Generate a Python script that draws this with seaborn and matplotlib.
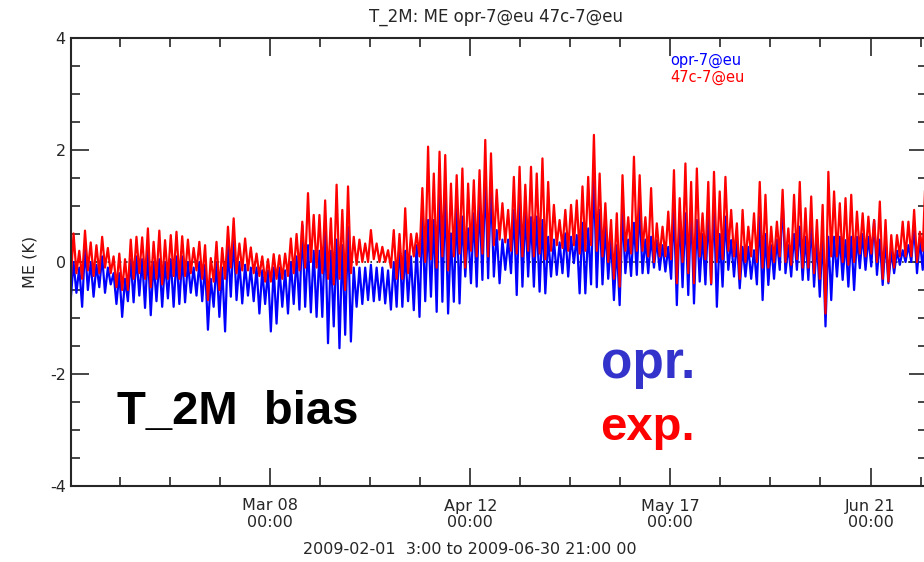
import numpy as np
import pandas as pd
import matplotlib
matplotlib.use('Agg')
import matplotlib.pyplot as plt
import matplotlib.dates as mdates
from matplotlib.ticker import MultipleLocator, FixedLocator
import seaborn as sns

# daily 3-hourly extremes of T_2M mean error (K), 2009-02-01 .. 2009-06-30
exp_hi = [0.51, 0.20, 0.56, 0.35, 0.30, 0.45, 0.25, 0.10, 0.15, 0.05, 0.40, 0.45, 0.44, 0.60, 0.36,
          0.56, 0.39, 0.48, 0.54, 0.46, 0.40, 0.25, 0.36, 0.30, 0.07, 0.36, 0.25, 0.63, 0.78, 0.33,
          0.42, 0.26, 0.15, 0.10, 0.05, 0.14, 0.12, 0.15, 0.42, 0.50, 0.72, 1.23, 0.84, 0.84, 1.10,
          0.78, 1.38, 0.93, 1.35, 0.45, 0.40, 0.33, 0.57, 0.33, 0.27, 0.21, 0.57, 0.50, 0.96, 0.50,
          0.51, 1.32, 2.06, 1.58, 1.97, 1.91, 1.40, 1.55, 1.67, 1.40, 1.46, 1.64, 2.18, 1.94, 1.29,
          1.05, 0.93, 1.52, 1.70, 1.38, 1.70, 1.58, 1.85, 1.43, 1.02, 0.75, 0.93, 1.02, 1.10, 1.35,
          1.52, 2.27, 1.58, 1.05, 0.75, 0.87, 1.55, 0.80, 1.88, 1.55, 0.80, 1.32, 0.69, 0.63, 0.90,
          1.64, 1.14, 1.76, 1.43, 1.67, 0.87, 1.43, 1.61, 1.26, 1.52, 0.93, 0.69, 0.93, 0.63, 0.87,
          1.43, 1.20, 0.63, 0.72, 1.29, 0.60, 1.20, 1.43, 0.96, 1.17, 0.75, 1.02, 1.61, 1.26, 1.05,
          1.14, 1.20, 0.90, 0.87, 0.81, 0.75, 1.08, 0.75, 0.48, 0.48, 0.72, 0.72, 0.93, 0.54, 1.55]
exp_lo = [-0.35, -0.20, -0.30, -0.15, -0.25, -0.20, -0.10, -0.20, -0.45, -0.50, -0.50, -0.30, -0.20, -0.30, -0.45,
          -0.30, -0.40, -0.30, -0.25, -0.30, -0.25, -0.20, -0.15, -0.30, -0.68, -0.35, -0.50, -0.30, -0.10, -0.20,
          -0.15, -0.15, -0.20, -0.25, -0.35, -0.35, -0.30, -0.30, -0.25, -0.20, -0.15, -0.10, 0.00, -0.10, -0.20,
          -0.30, -0.40, -0.30, -0.50, -0.20, -0.05, 0.00, 0.00, 0.05, 0.00, 0.00, -0.10, -0.30, -0.30, -0.20,
          0.10, 0.10, 0.00, 0.05, -0.10, 0.10, -0.15, 0.10, 0.15, -0.10, 0.20, 0.10, 0.15, 0.10, 0.30,
          0.40, 0.35, 0.20, 0.15, 0.10, 0.20, 0.10, 0.15, 0.05, 0.20, 0.30, 0.25, 0.20, 0.30, 0.15,
          0.20, 0.30, 0.20, 0.10, 0.00, -0.30, -0.44, 0.20, 0.15, 0.20, 0.20, 0.10, 0.00, 0.10, 0.10,
          0.05, -0.38, 0.00, -0.20, -0.38, 0.10, 0.05, -0.38, 0.00, 0.05, 0.20, 0.10, -0.30, 0.00, 0.10,
          0.00, -0.10, -0.10, 0.00, 0.10, 0.00, -0.05, 0.05, -0.10, -0.10, -0.20, -0.30, -0.92, 0.10, 0.10,
          0.00, -0.05, 0.00, 0.15, 0.10, 0.15, 0.00, -0.30, -0.35, -0.10, 0.10, 0.10, 0.10, 0.00, 0.20]
opr_hi = [0.00, -0.10, 0.27, 0.00, -0.05, 0.10, -0.10, -0.20, -0.20, -0.30, 0.05, 0.10, 0.05, 0.20, 0.00,
          0.05, 0.00, 0.05, 0.10, 0.10, 0.00, -0.10, 0.00, -0.05, -0.30, 0.00, -0.10, 0.30, 0.45, 0.00,
          -0.05, -0.10, -0.10, -0.15, -0.15, -0.10, -0.10, -0.15, 0.00, 0.10, 0.66, 0.30, 0.20, 0.20, 0.55,
          0.20, 0.40, 0.30, 0.63, -0.10, -0.10, -0.10, -0.05, -0.10, -0.10, -0.15, 0.00, 0.36, 0.20, 0.10,
          0.30, 0.81, 0.75, 0.75, 1.43, 1.23, 0.51, 0.99, 0.81, 0.60, 0.87, 1.10, 1.52, 1.35, 0.57,
          0.40, 0.40, 0.93, 1.17, 0.90, 0.80, 0.81, 0.75, 0.45, 0.40, 0.35, 0.51, 0.45, 0.48, 0.70,
          0.60, 1.58, 0.93, 0.63, 0.40, 0.30, 0.93, 0.40, 0.70, 0.99, 0.40, 0.45, 0.39, 0.30, 0.27,
          0.95, 0.87, 0.87, 0.99, 0.75, 0.50, 0.87, 1.02, 0.50, 0.81, 0.39, 0.39, 0.27, 0.27, 0.21,
          0.81, 0.50, 0.30, 0.40, 1.10, 0.30, 0.50, 0.63, 0.45, 0.69, 0.40, 0.50, 0.45, 0.45, 0.45,
          0.39, 0.45, 0.45, 0.50, 0.45, 0.75, 0.40, 0.39, 0.20, 0.20, 0.21, 0.30, 0.63, 0.40, 0.63]
opr_lo = [-0.68, -0.55, -0.80, -0.50, -0.62, -0.45, -0.55, -0.40, -0.75, -0.98, -0.70, -0.72, -0.60, -0.82, -0.95,
          -0.70, -0.80, -0.65, -0.80, -0.75, -0.72, -0.55, -0.60, -0.70, -1.21, -0.80, -0.98, -1.24, -0.62, -0.68,
          -0.74, -0.60, -0.70, -0.92, -0.75, -1.24, -1.10, -0.80, -0.92, -0.75, -0.85, -0.80, -0.90, -0.98, -0.98,
          -1.45, -1.15, -1.54, -1.30, -1.42, -0.80, -0.75, -0.68, -0.70, -0.68, -0.74, -0.85, -0.80, -0.80, -0.70,
          -0.86, -0.98, -0.70, -0.62, -0.89, -0.71, -0.92, -0.71, -0.74, -0.26, -0.38, -0.44, -0.32, -0.29, -0.26,
          -0.38, -0.14, -0.20, -0.59, -0.44, -0.26, -0.44, -0.53, -0.56, -0.26, -0.23, -0.20, -0.26, -0.02, -0.56,
          -0.56, -0.40, -0.45, -0.40, -0.30, -0.68, -0.77, -0.20, -0.25, -0.23, -0.20, -0.20, -0.10, -0.14, -0.17,
          -0.30, -0.77, -0.45, -0.59, -0.74, -0.35, -0.40, -0.40, -0.80, -0.44, -0.14, -0.26, -0.47, -0.26, -0.30,
          -0.40, -0.68, -0.41, -0.30, -0.14, -0.20, -0.26, -0.14, -0.32, -0.32, -0.44, -0.62, -1.15, -0.68, -0.26,
          -0.32, -0.44, -0.50, -0.11, -0.14, -0.08, -0.23, -0.41, -0.38, -0.20, -0.05, 0.00, 0.00, -0.20, -0.14]

runs = ['opr-7@eu', '47c-7@eu']   # experiment drawn last, on top
run_colors = {'47c-7@eu': '#ff0000', 'opr-7@eu': '#0000ff'}

# lows at 03 UTC, highs at 15 UTC
days = pd.date_range('2009-02-01 03:00', periods=len(exp_hi), freq='D')
t = np.column_stack([days.values, (days + pd.Timedelta(hours=12)).values]).ravel()
frames = []
for run, lo, hi in [('opr-7@eu', opr_lo, opr_hi), ('47c-7@eu', exp_lo, exp_hi)]:
    v = np.column_stack([lo, hi]).ravel()
    frames.append(pd.DataFrame({'time': t, 'me': v, 'run': run}))
df = pd.concat(frames, ignore_index=True)

sns.set_style('ticks')
plt.rcParams['font.family'] = ['DejaVu Sans']
plt.rcParams['axes.unicode_minus'] = False

fig = plt.figure(figsize=(9.24, 5.62), dpi=100)
ax = fig.add_axes([70.7 / 924, 1 - 486 / 562, (927 - 70.7) / 924, 448 / 562])

sns.lineplot(data=df, x='time', y='me', hue='run', hue_order=runs, palette=run_colors,
             estimator=None, sort=False, legend=False, lw=1.6, ax=ax)
ax.axhline(0, color='black', ls=(0, (1, 3)), lw=1.1, zorder=0.5)

ax.set_xlim(pd.Timestamp('2009-02-01 03:00'), pd.Timestamp('2009-06-30 21:00'))
ax.set_ylim(-4, 4)
ax.yaxis.set_major_locator(MultipleLocator(2))
ax.yaxis.set_minor_locator(MultipleLocator(0.5))
ticks = pd.date_range('2009-02-01', periods=19, freq='210h')
ax.xaxis.set_minor_locator(FixedLocator(mdates.date2num(ticks)))
ax.xaxis.set_major_locator(FixedLocator(mdates.date2num(ticks[4::4])))
ax.xaxis.set_major_formatter(mdates.DateFormatter('%b %d\n%H:%M'))
ax.tick_params(which='both', direction='in', top=True, right=True, width=1.2, labelsize=11.5)
ax.tick_params(which='major', length=13)
ax.tick_params(which='minor', length=6.5)
ax.tick_params(axis='x', pad=9)
for lab in ax.get_xticklabels():
    lab.set_linespacing(1.1)
for s in ax.spines.values():
    s.set_linewidth(1.5)
ax.set_xlabel('')
ax.set_ylabel('ME (K)', fontsize=11.5, labelpad=9)

fig.text(496 / 924, 1 - 17 / 562, 'T_2M: ME opr-7@eu 47c-7@eu', ha='center', va='center', fontsize=12)
fig.text(470 / 924, 1 - 549 / 562, '2009-02-01  3:00 to 2009-06-30 21:00 00', ha='center', va='center', fontsize=11.5)
fig.text(670 / 924, 1 - 60 / 562, 'opr-7@eu', color='#0000ff', ha='left', va='center', fontsize=10.5)
fig.text(670 / 924, 1 - 77 / 562, '47c-7@eu', color='#ff0000', ha='left', va='center', fontsize=10.5)

fig.text(117 / 924, 1 - 424 / 562, 'T_2M  bias', color='black', fontweight='bold', fontsize=34,
         family='Liberation Sans', ha='left', va='baseline')
fig.text(601 / 924, 1 - 378 / 562, 'opr.', color='#3333cc', fontweight='bold', fontsize=37,
         family='Liberation Sans', ha='left', va='baseline')
fig.text(600 / 924, 1 - 440 / 562, 'exp.', color='#ff0000', fontweight='bold', fontsize=34,
         family='Liberation Sans', ha='left', va='baseline')

fig.savefig('out.png', dpi=100)
